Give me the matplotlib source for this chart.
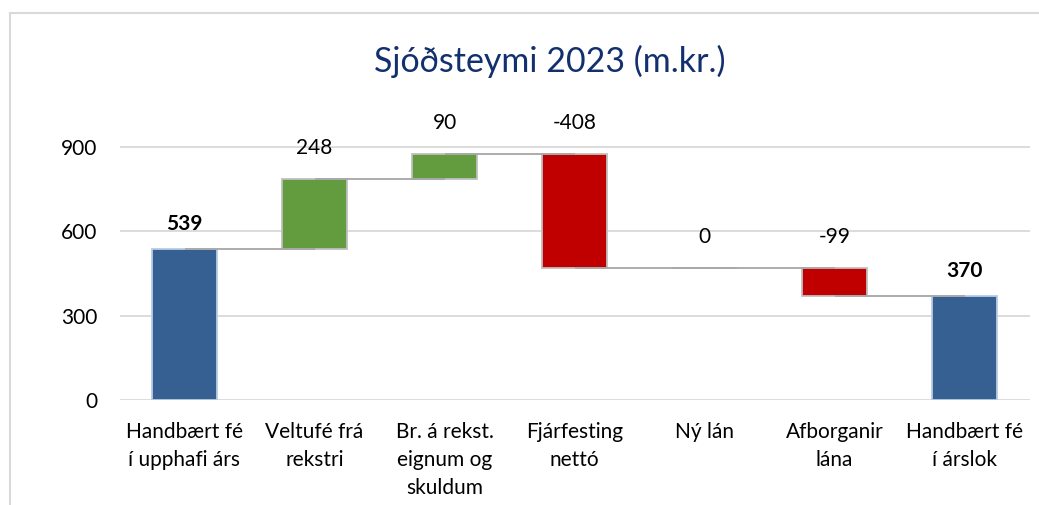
import numpy as np
import matplotlib.pyplot as plt
from matplotlib.lines import Line2D

categories = ['Handbært fé\ní upphafi árs', 'Veltufé frá\nrekstri', 'Br. á rekst.\neignum og\nskuldum',
              'Fjárfesting\nnettó', 'Ný lán', 'Afborganir\nlána', 'Handbært fé\ní árslok']
values = [539, 248, 90, -408, 0, -99, 370]
is_total = [True, False, False, False, False, False, True]
y_ticks = [0, 300, 600, 900]

blue = '#366092'
green = '#629C3E'
red = '#C00000'

plt.rcParams['font.family'] = ['Lato', 'DejaVu Sans']

# waterfall bottoms / heights
bottoms, heights, tops, levels = [], [], [], []
level = 0
for v, tot in zip(values, is_total):
    if tot:
        bottoms.append(0)
        heights.append(v)
        level = v
    else:
        bottoms.append(min(level, level + v))
        heights.append(abs(v))
        level = level + v
    tops.append(bottoms[-1] + heights[-1])
    levels.append(level)

colors = [blue if t else (green if v >= 0 else red) for v, t in zip(values, is_total)]
edges = ['#B8CCE4' if t else '#BFBFBF' for t in is_total]

W, H = 1039, 505
fig = plt.figure(figsize=(W / 100, H / 100), dpi=100)
ax = fig.add_axes([119.5 / W, 105 / H, 910 / W, 281 / H])

x = np.arange(len(categories))
ax.bar(x, heights, bottom=bottoms, width=0.5, color=colors, edgecolor=edges,
       linewidth=1.3, zorder=3)

# connectors
for i in range(len(values) - 1):
    ax.plot([x[i], x[i + 1]], [levels[i], levels[i]], color='#A6A6A6', lw=1.3,
            zorder=4, solid_capstyle='butt')

# value labels
for i, (v, t) in enumerate(zip(values, is_total)):
    ax.annotate(f'{v}', (x[i], tops[i]), xytext=(0, 19 if t else 25),
                textcoords='offset pixels', ha='center', va='baseline',
                fontsize=15, fontweight='bold' if t else 'normal',
                color='black', annotation_clip=False)

ax.set_xlim(-0.5, len(categories) - 0.5)
ax.set_ylim(0, 1000)
ax.set_yticks(y_ticks)
ax.set_yticklabels([str(t) for t in y_ticks])
ax.set_xticks(x)
ax.set_xticklabels(categories, fontsize=15, linespacing=1.5)
ax.tick_params(axis='y', length=0, pad=16, labelsize=15)
ax.tick_params(axis='x', length=0, pad=16)
ax.yaxis.grid(True, color='#D9D9D9', lw=1.3, zorder=0)
ax.set_axisbelow(True)
for s in ax.spines.values():
    s.set_visible(False)

fig.text(550 / W, 1 - 72 / H, 'Sjóðsteymi 2023 (m.kr.)', ha='center', va='baseline',
         fontsize=24.5, color='#12306E')

# chart frame
fig.add_artist(Line2D([10 / W, 10 / W], [0, 1 - 13 / H], transform=fig.transFigure,
                      color='#D9D9D9', lw=1.5))
fig.add_artist(Line2D([10 / W, 1], [1 - 13 / H, 1 - 13 / H], transform=fig.transFigure,
                      color='#D9D9D9', lw=1.5))

fig.savefig('out.png', dpi=100)
